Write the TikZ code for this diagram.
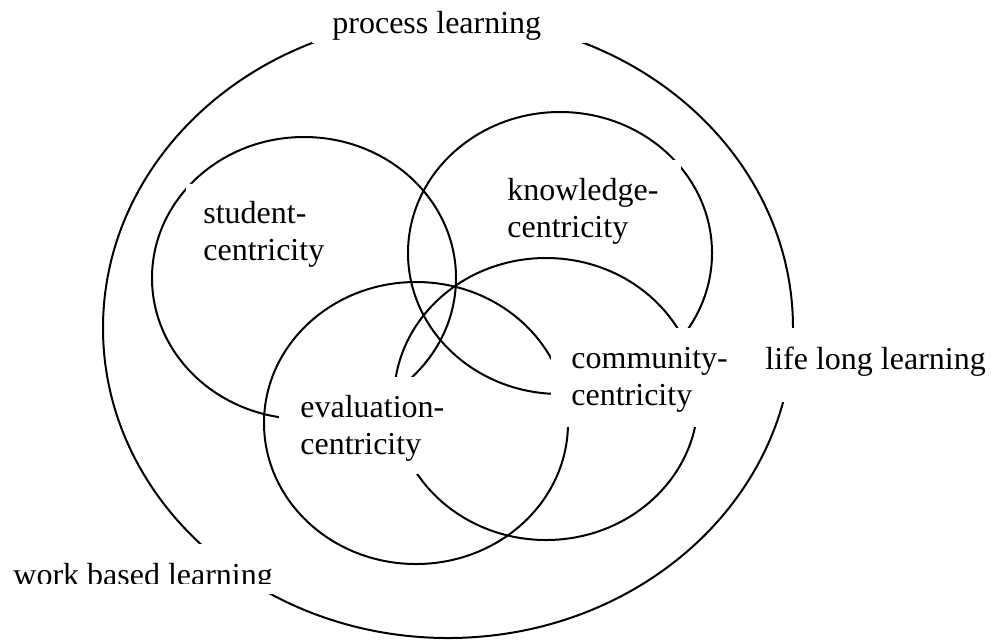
\documentclass[tikz,border=0pt]{standalone}
\usepackage{fontspec}
\setmainfont{Liberation Serif}

\begin{document}
\begin{tikzpicture}[x=0.5pt,y=-0.5pt,
  ring/.style={draw=black,line width=1pt},
  mask/.style={fill=white},
  tag/.style={anchor=north west,inner sep=0pt,align=left,
    font=\fontsize{16}{18.5}\selectfont}]
  \useasboundingbox (0,0) rectangle (994,639);
  % outer ring and the four overlapping circles
  \draw[ring] (448,328) ellipse [x radius=172.5pt,y radius=155pt];
  \draw[ring] (304,278) ellipse [x radius=76pt,y radius=70.5pt];
  \draw[ring] (560,253) ellipse [x radius=76pt,y radius=70.5pt];
  \draw[ring] (416,423) ellipse [x radius=76pt,y radius=70.5pt];
  \draw[ring] (546,399) ellipse [x radius=76pt,y radius=70.5pt];
  % white text boxes, they break the rings
  \fill[mask] (312,-8) rectangle (586,43);
  \fill[mask] (186,184) rectangle (343,282);
  \fill[mask] (488,160) rectangle (681,252);
  \fill[mask] (279,377) rectangle (463,474);
  \fill[mask] (551,328) rectangle (746,427);
  \fill[mask] (746,328) rectangle (1000,402);
  \fill[mask] (-10,544) rectangle (290,594);
  \node[tag] (process) at (332,11) {process learning};
  \node[tag] (student) at (203,201) {student-\\centricity};
  \node[tag] (knowledge) at (507,178) {knowledge-\\centricity};
  \node[tag] (evaluation) at (300,395) {evaluation-\\centricity};
  \node[tag] (community) at (571,347) {community-\\centricity};
  \node[tag] (lifelong) at (765,347) {life long learning};
  % this one is cut off at the bottom of its box
  \begin{scope}
    \clip (-10,544) rectangle (290,583);
    \node[tag] (workbased) at (13,563) {work based learning};
  \end{scope}
\end{tikzpicture}
\end{document}
